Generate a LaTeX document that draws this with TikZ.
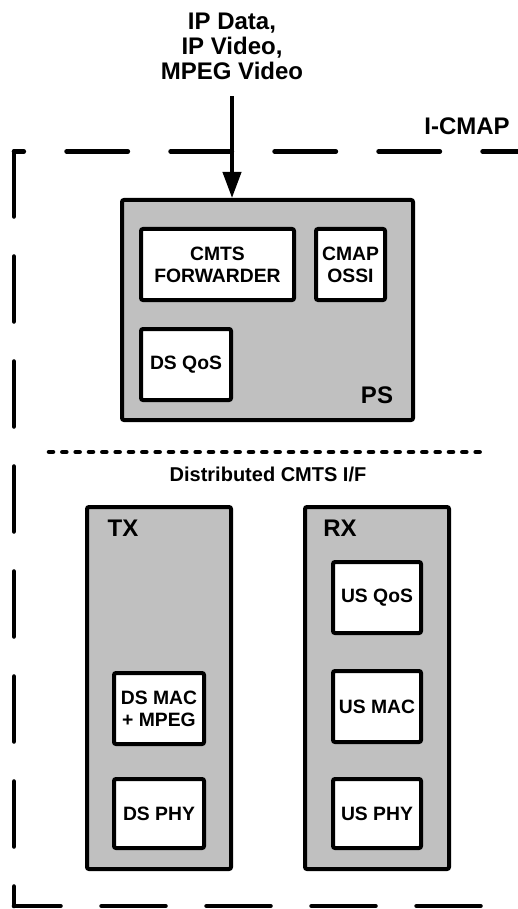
\documentclass[tikz,border=0pt]{standalone}
\usepackage{fontspec}
\setmainfont{Liberation Sans}
\usetikzlibrary{arrows.meta,positioning}
\definecolor{cmapgray}{RGB}{192,192,192}
\newcommand{\titlefont}{\fontsize{18}{18.75}\selectfont\bfseries}
\newcommand{\unitfont}{\fontsize{14.5}{16.3}\selectfont\bfseries}
\newcommand{\notefont}{\fontsize{15}{17}\selectfont\bfseries}
\tikzset{
  region/.style={
    draw=black,
    fill=cmapgray,
    line width=3pt,
    rounded corners=1.5pt,
    inner sep=0pt
  },
  unit/.style={
    draw=black,
    fill=white,
    line width=3pt,
    rounded corners=1.5pt,
    align=center,
    inner sep=0pt,
    minimum width=67.5pt,
    minimum height=53.25pt,
    font=\unitfont
  },
  tag/.style={font=\titlefont, inner sep=0pt},
  border/.style={line width=3.4pt, line cap=round},
  divider/.style={line width=3.4pt, line cap=round, dash pattern=on 3pt off 7pt},
  arr/.style={-{Triangle[length=19.5pt,width=13.5pt]}, line width=3pt}
}

\begin{document}
\begin{tikzpicture}[x=0.75pt,y=-0.75pt]
  % pixel grid, y runs down
  \useasboundingbox (0,0) rectangle (517,909);

  % I-CMAP boundary
  \draw[border, dash pattern=on 46pt off 32pt, dash phase=38.6pt] (14,151.5) -- (540,151.5);
  \draw[border, dash pattern=on 48.75pt off 30pt] (14,151.5) -- (14,906);
  \draw[border, dash pattern=on 48pt off 30.75pt, dash phase=13.1pt] (14,906) -- (540,906);
  \node[tag] (icmap) at (467,126.5) {I-CMAP};

  % PS
  \node[region, minimum width=218.25pt, minimum height=165pt] (ps) at (267.5,310) {};
  \node[unit, minimum width=114.75pt] (fwd) at (217.5,264.5) {CMTS\\FORWARDER};
  \node[unit, minimum width=51.75pt, right=13.5pt of fwd] (ossi) {CMAP\\OSSI};
  \node[unit, below=18.75pt of fwd.south west, anchor=north west] (dsqos) {DS QoS};
  \node[tag] (pslabel) at (377,395) {PS};

  \node[tag, align=center] (feed) at (232,46.5) {IP Data,\\IP Video,\\MPEG Video};
  \draw[arr, shorten <=12pt] (feed.south) -- (feed.south |- ps.north);

  \draw[divider] (49,452) -- (489,452);
  \node[font=\notefont, anchor=base] (dif) at (268,481) {Distributed CMTS I/F};

  % TX
  \node[region, minimum width=108pt, minimum height=271.5pt] (tx) at (159,688) {};
  \node[tag] (txlabel) at (123,528) {TX};
  \node[unit] (dsmac) at (159,708.5) {DS MAC\\+ MPEG};
  \node[unit, minimum height=51.75pt, below=23.25pt of dsmac] (dsphy) {DS PHY};

  % RX
  \node[region, minimum width=108pt, minimum height=271.5pt] (rx) at (377,688) {};
  \node[tag] (rxlabel) at (340,528) {RX};
  \node[unit, minimum width=66pt] (usqos) at (377,597.5) {US QoS};
  \node[unit, minimum width=66pt, below=25.5pt of usqos] (usmac) {US MAC};
  \node[unit, minimum width=66pt, minimum height=51.75pt, below=24.75pt of usmac] (usphy) {US PHY};
\end{tikzpicture}
\end{document}
